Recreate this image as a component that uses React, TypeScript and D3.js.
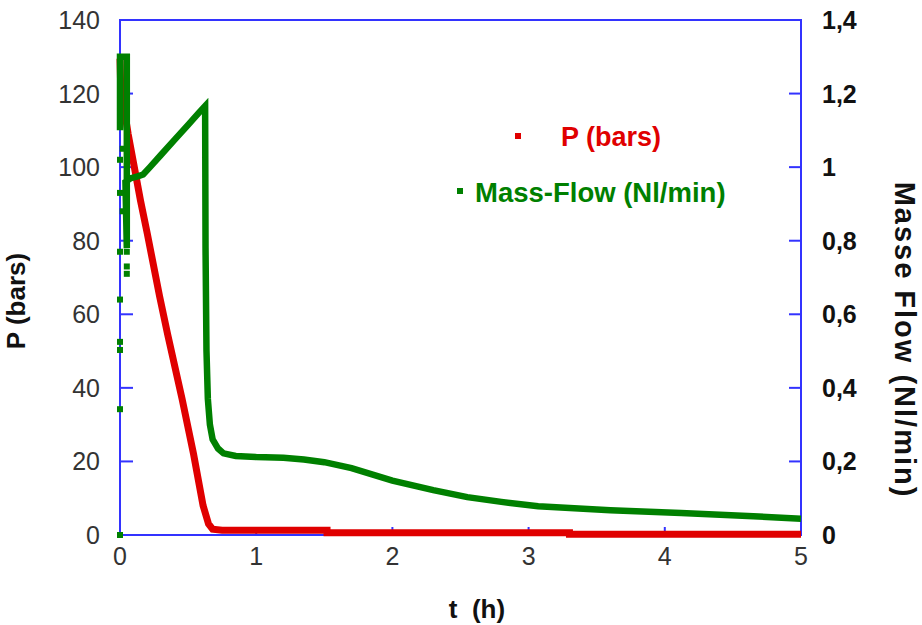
import React from 'react';
import * as d3 from 'd3';

// P (bars) vs time (h)
const pressureT = [0, 0.005, 0.03, 0.06, 0.1, 0.15, 0.2, 0.29, 0.35, 0.456, 0.54, 0.61, 0.65, 0.68, 0.75, 1.52, 1.52, 3.3, 3.3, 5];
const pressureV = [129.5, 122, 116, 109, 101, 91, 82, 65, 54.5, 37, 22, 8, 3, 1.6, 1.3, 1.3, 0.6, 0.6, 0.2, 0.2];

// Mass flow (Nl/min) vs time (h), main trace
const flowT = [0, 0, 0.05, 0.05, 0.04, 0.08, 0.13, 0.17, 0.22, 0.3, 0.4, 0.5, 0.58, 0.625, 0.628, 0.635, 0.645, 0.66, 0.68, 0.72, 0.76, 0.85, 1.0, 1.2, 1.35, 1.5, 1.7, 2.0, 2.3, 2.55, 2.8, 3.07, 3.6, 4.12, 4.65, 5.0];
const flowV = [1.1, 1.3, 1.3, 0.78, 0.96, 0.97, 0.975, 0.98, 1.0, 1.033, 1.074, 1.115, 1.148, 1.166, 0.78, 0.5, 0.37, 0.3, 0.26, 0.235, 0.222, 0.215, 0.212, 0.21, 0.205, 0.198, 0.182, 0.148, 0.122, 0.103, 0.09, 0.078, 0.067, 0.06, 0.051, 0.044];

// scattered start-up readings
const flowDotT = [0, 0, 0, 0, 0, 0, 0, 0, 0.05, 0.05, 0.05, 0.02, 0.02];
const flowDotV = [0, 0.342, 0.503, 0.525, 0.64, 0.77, 0.93, 1.02, 0.77, 0.73, 0.71, 0.88, 1.05];

const xTicks = [0, 1, 2, 3, 4, 5];
const leftTicks = [0, 20, 40, 60, 80, 100, 120, 140];
const rightTicks = [0, 0.2, 0.4, 0.6, 0.8, 1, 1.2, 1.4];

const FONT = '"Liberation Sans", Arial, Helvetica, sans-serif';
const AXIS = '#3333ff';
const RED = '#e00000';
const GREEN = '#008000';

export default function App() {
  const width = 922;
  const height = 625;
  const left = 120, right = 801, top = 20, bottom = 535;

  const x = d3.scaleLinear().domain([0, 5]).range([left, right]);
  const yP = d3.scaleLinear().domain([0, 140]).range([bottom, top]);
  const yF = d3.scaleLinear().domain([0, 1.4]).range([bottom, top]);

  const pLine = d3.line<number>()
    .x((_, i) => x(pressureT[i]))
    .y(d => yP(d));
  const fLine = d3.line<number>()
    .x((_, i) => x(flowT[i]))
    .y(d => yF(d));

  const fmtRight = (v: number) => String(v).replace('.', ',');

  return (
    <svg width={width} height={height} style={{ position: 'absolute', left: 0, top: 0, background: '#fff' }} fontFamily={FONT}>
      {/* frame */}
      <rect x={left} y={top} width={right - left} height={bottom - top} fill="none" stroke={AXIS} strokeWidth={2} />
      {leftTicks.map(t => (
        <g key={'l' + t}>
          <line x1={left} x2={left + 13} y1={yP(t)} y2={yP(t)} stroke={AXIS} strokeWidth={2} />
          <text x={100} y={yP(t)} dy="0.36em" textAnchor="end" fontSize={25} fill="#333">{t}</text>
        </g>
      ))}
      {rightTicks.map(t => (
        <g key={'r' + t}>
          <line x1={right - 12} x2={right} y1={yF(t)} y2={yF(t)} stroke={AXIS} strokeWidth={2} />
          <text x={822} y={yF(t)} dy="0.36em" fontSize={25} fontWeight="bold" fill="#111">{fmtRight(t)}</text>
        </g>
      ))}
      {xTicks.map(t => (
        <g key={'x' + t}>
          <line x1={x(t)} x2={x(t)} y1={bottom} y2={bottom - 8} stroke={AXIS} strokeWidth={2} />
          <text x={x(t)} y={565} textAnchor="middle" fontSize={25} fill="#333">{t}</text>
        </g>
      ))}

      {/* series */}
      <path d={pLine(pressureV) || ''} fill="none" stroke={RED} strokeWidth={7} strokeLinejoin="miter" />
      <path d={fLine(flowV) || ''} fill="none" stroke={GREEN} strokeWidth={6.5} strokeLinejoin="miter" />
      {flowDotV.map((v, i) => (
        <rect key={'d' + i} x={x(flowDotT[i]) - 3} y={yF(v) - 3} width={6} height={6} fill={GREEN} />
      ))}

      {/* legend */}
      <rect x={515} y={133} width={6} height={6} fill={RED} />
      <text x={561} y={146} fontSize={27} fontWeight="bold" fill={RED}>P (bars)</text>
      <rect x={457} y={188} width={6} height={6} fill={GREEN} />
      <text x={475} y={202} fontSize={27.5} fontWeight="bold" fill={GREEN}>Mass-Flow (Nl/min)</text>

      {/* axis titles */}
      <text transform="translate(16,301) rotate(-90)" textAnchor="middle" dy="0.36em" fontSize={26} fontWeight="bold" fill="#111">P (bars)</text>
      <text transform="translate(905,340) rotate(90)" textAnchor="middle" dy="0.36em" fontSize={29} fontWeight="bold" letterSpacing={2} fill="#111">Masse Flow (Nl/min)</text>
      <text x={477} y={618} textAnchor="middle" fontSize={26} fontWeight="bold" fill="#111" style={{ whiteSpace: 'pre' }}>{'t  (h)'}</text>
    </svg>
  );
}
